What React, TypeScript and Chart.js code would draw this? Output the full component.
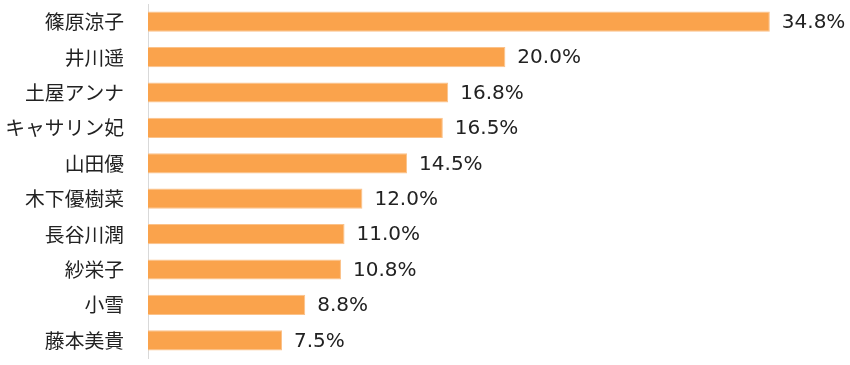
import React, { useEffect, useRef } from "react";
import { Chart, registerables } from "chart.js";

Chart.register(...registerables);

const names = ["篠原涼子", "井川遥", "土屋アンナ", "キャサリン妃", "山田優", "木下優樹菜", "長谷川潤", "紗栄子", "小雪", "藤本美貴"];
const values = [34.8, 20.0, 16.8, 16.5, 14.5, 12.0, 11.0, 10.8, 8.8, 7.5];

const valueLabels = {
  id: "valueLabels",
  afterDatasetsDraw(chart: any) {
    const ctx = chart.ctx;
    const meta = chart.getDatasetMeta(0);
    ctx.save();
    ctx.font = "20px 'DejaVu Sans', sans-serif";
    ctx.fillStyle = "#222";
    ctx.textAlign = "left";
    ctx.textBaseline = "middle";
    meta.data.forEach((bar: any, i: number) => {
      ctx.fillText(values[i].toFixed(1) + "%", bar.x + 12, bar.y + 1);
    });
    ctx.restore();
  },
};

export default function App() {
  const ref = useRef<HTMLCanvasElement>(null);
  useEffect(() => {
    const chart = new Chart(ref.current!, {
      type: "bar",
      data: {
        labels: names,
        datasets: [
          {
            data: values,
            backgroundColor: "#FAA34C",
            borderColor: "#FBC28A",
            borderWidth: 1,
            barPercentage: 0.57,
            categoryPercentage: 1,
          },
        ],
      },
      options: {
        indexAxis: "y",
        animation: false,
        responsive: false,
        layout: { padding: { top: 4, bottom: 7, right: 23, left: 0 } },
        plugins: { legend: { display: false }, tooltip: { enabled: false } },
        scales: {
          x: { display: false, min: 0, max: 38 },
          y: {
            grid: { display: false, drawTicks: false },
            border: { display: true, color: "#D9D9D9", width: 1 },
            ticks: {
              color: "#222",
              padding: 24,
              font: { family: "'Noto Sans CJK JP', sans-serif", size: 19.8 },
            },
            afterFit(scale: any) {
              scale.width = 148;
              scale.paddingTop = 0;
              scale.paddingBottom = 0;
            },
          },
        },
      },
      plugins: [valueLabels],
    });
    return () => chart.destroy();
  }, []);
  return (
    <div style={{ position: "absolute", left: 0, top: 0, width: 850, height: 365, background: "#fff" }}>
      <canvas ref={ref} width={850} height={365} />
    </div>
  );
}
